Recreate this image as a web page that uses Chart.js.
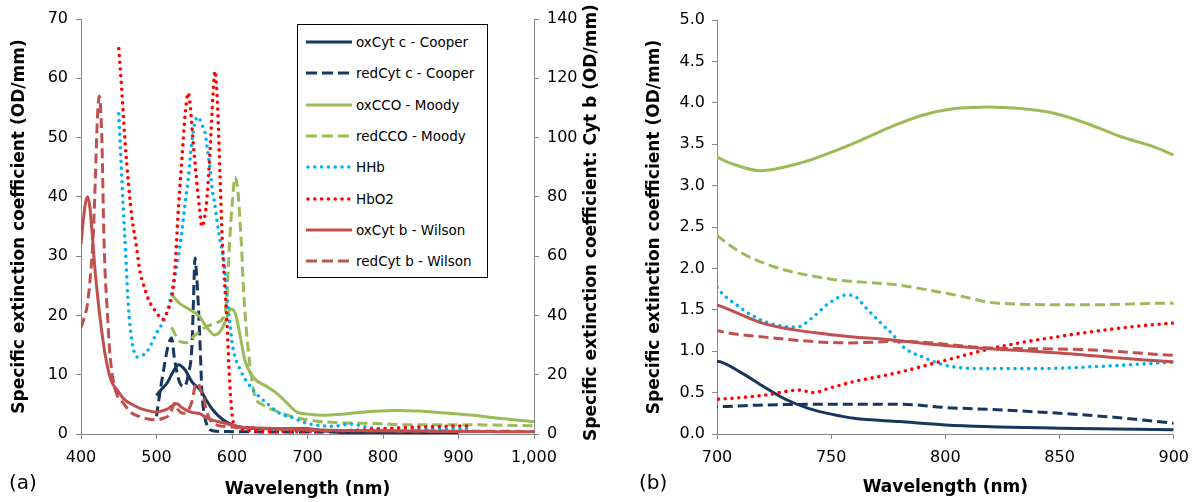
<!DOCTYPE html>
<html>
<head>
<meta charset="utf-8">
<script src="https://cdn.jsdelivr.net/npm/chart.js@4"></script>
<style>
  body { margin: 0; background: #fff; width: 1198px; height: 502px; overflow: hidden; font-family: 'DejaVu Sans', sans-serif; }
  #wrapA { position: absolute; left: 0; top: 0; width: 600px; height: 502px; }
  #wrapB { position: absolute; left: 600px; top: 0; width: 598px; height: 502px; }
  .tag { position: absolute; top: 472px; font-size: 20px; line-height: 1; color: #000; }
  #legend { position: absolute; left: 297px; top: 24px; width: 191px; height: 254px; border: 1px solid #000; background: #fff; box-sizing: border-box; }
  .row { position: absolute; left: 8px; height: 20px; display: flex; align-items: center; font-size: 13.5px; color: #000; white-space: nowrap; }
  .row svg { margin-right: 4px; }
</style>
</head>
<body>
<div id="wrapA"><canvas id="chartA" width="600" height="502"></canvas></div>
<div id="wrapB"><canvas id="chartB" width="598" height="502"></canvas></div>
<div id="legend"></div>
<div class="tag" style="left:9px">(a)</div>
<div class="tag" style="left:639px">(b)</div>
<script>
// ---- data: wavelength (nm) and specific extinction coefficient (OD/mm) ----
const oxCytcNm = [500,507,514,522,529,538,547,558,566,575,588,601,620,650,700,710,720,730,740,750,760,780,800,850,900];
const oxCytcOD = [6.5,7.6,8.6,10.5,11.7,10.8,8.8,7.4,5.7,4.0,2.4,1.5,1.0,0.9,0.88,0.75,0.58,0.42,0.31,0.24,0.19,0.15,0.11,0.07,0.05];

const redCytcNm = [500,505,511,515,520,524,531,537,542,547,549,551,553,555,558,560,564,571,580,600,650,700,720,750,780,800,825,850,875,900];
const redCytcOD = [3,7.4,12,14.7,16.2,12.5,8.6,8.0,10,15,22.7,29.7,27,22.7,14.2,7.4,2.9,0.7,0.45,0.4,0.35,0.33,0.35,0.36,0.36,0.32,0.29,0.25,0.2,0.13];

const oxCcoNm = [520,531,544,557,566,577,586,593,598,604,611,617,628,646,659,673,686,700,707,719,736,758,778,790,804,819,833,848,862,877,891,900,920,950,1000];
const oxCcoOD = [23.5,22,21,19.8,18.1,16.7,17.6,19.6,21.1,20.5,16.4,12.5,9.6,8,6.9,5.2,3.7,3.35,3.26,3.18,3.27,3.49,3.73,3.85,3.93,3.95,3.93,3.87,3.75,3.59,3.47,3.37,3.15,2.7,2.1];

const redCcoNm = [520,526,531,540,551,566,580,589,593,595,597,600,604,608,611,613,615,619,624,630,640,660,681,700,710,725,750,779,804,823,862,900,950,1000];
const redCcoOD = [18,16.5,15.6,15.4,16.7,18.1,18.8,19.8,22.7,27.7,32.8,38.4,43.3,40.8,35,30.6,24.9,17.6,11.3,6.5,5,3.8,2.9,2.4,2.2,2.02,1.87,1.8,1.68,1.58,1.56,1.58,1.5,1.4];

const hhbNm = [450,453,456,459,462,466,470,474,480,487,500,514,522,529,534,538,542,545,549,555,560,564,568,571,574,577,580,584,589,593,597,601,611,628,646,663,681,700,710,719,727,735,742,749,757,761,765,771,777,782,790,800,815,840,870,900,915];
const hhbOD = [54,46,38,31,23,17,14,13,13.2,13.8,17,20.5,25,30,34.5,39,43,47,51.4,53.5,52.2,51,47.5,44.6,41,39,36,32.8,29.4,23.8,18.8,14.7,10.8,7.4,5.2,3.5,2.7,1.77,1.53,1.38,1.31,1.29,1.41,1.58,1.68,1.65,1.53,1.36,1.2,1.04,0.93,0.83,0.79,0.79,0.82,0.87,0.9];

const hbo2Nm = [450,454,458,463,468,473,478,482,490,500,508,514,518,522,525,529,534,538,542,545,548,553,557,560,563,567,571,575,577.5,581,584,587,590,593,597,601,605,610,650,700,721,736,742,750,758,779,800,823,848,877,900,915];
const hbo2OD = [65,58,50,42,36,32,27.5,25.5,22.5,20.5,19.3,20.5,22,24.5,29,38,47,54,57.5,55,50,43,38,35,36,40,48,57.5,61.2,55,44,33,26,19.8,8.6,2.4,1.2,0.8,0.4,0.42,0.47,0.53,0.5,0.56,0.62,0.74,0.89,1.05,1.17,1.28,1.34,1.36];

const oxCytbNm = [400,403,406,409,412,415,418,421,425,430,434,440,448,458,469,480,490,500,510,517,522,527,533,540,548,558,566,575,588,611,650,700,721,750,779,800,848,900,950,1000];
const oxCytbOD = [64,72,78,80,76,67,57,49,39.6,30,24,18,14.8,11.5,9.8,8.5,7.8,7.4,8,8.8,9.8,10.2,9,8,7.2,6.8,5.5,4.6,3.8,2.4,1.9,1.56,1.33,1.2,1.13,1.07,0.98,0.87,0.8,0.75];

const redCytbNm = [400,404,408,412,416,419,421,424,426,428,430,432,434,438,442,448,456,465,478,490,500,510,516,520,524,528,535,542,547,551,555,558,562,566,571,580,600,650,700,721,758,780,819,860,900,950,1000];
const redCytbOD = [36,39,43,52,66,86,102,114,110,96,70,54,45,28,19,13,10.4,7.5,5.8,5,4.8,5.4,6.2,8,10.4,8.4,7,8,11,16,17.2,15,12.6,8,4.8,3,2.4,1.8,1.25,1.17,1.1,1.12,1.04,1.02,0.95,0.9,0.88];

const seriesNames = ['oxCyt c - Cooper', 'redCyt c - Cooper', 'oxCCO - Moody', 'redCCO - Moody', 'HHb', 'HbO2', 'oxCyt b - Wilson', 'redCyt b - Wilson'];
const seriesNm = [oxCytcNm, redCytcNm, oxCcoNm, redCcoNm, hhbNm, hbo2Nm, oxCytbNm, redCytbNm];
const seriesOD = [oxCytcOD, redCytcOD, oxCcoOD, redCcoOD, hhbOD, hbo2OD, oxCytbOD, redCytbOD];
const onCytbAxis = [false, false, false, false, false, false, true, true];

// styles
const seriesColor = ['#17375e', '#17375e', '#9bbb59', '#9bbb59', '#00b0f0', '#ff0000', '#c0504d', '#c0504d'];
const seriesStyle = ['solid', 'dash', 'solid', 'dash', 'dot', 'dot', 'solid', 'dash'];

const axisGrey = '#868686';
const tickFont = { family: 'DejaVu Sans', size: 16 };
const titleFont = { family: 'DejaVu Sans', size: 17, weight: 'bold', lineHeight: 1 };

Chart.defaults.font.family = 'DejaVu Sans';
Chart.defaults.color = '#000';

function toPoints(nm, od) {
  return nm.map((w, i) => ({ x: w, y: od[i] }));
}

function buildDatasets(panel) {
  return seriesNames.map((name, i) => {
    const style = seriesStyle[i];
    return {
      label: name,
      data: toPoints(seriesNm[i], seriesOD[i]),
      borderColor: seriesColor[i],
      borderWidth: style === 'dot' ? 3.6 : 3,
      borderDash: style === 'dash' ? [10, 5] : (style === 'dot' ? [0, 6.8] : []),
      borderCapStyle: style === 'dot' ? 'round' : 'butt',
      pointRadius: 0,
      cubicInterpolationMode: 'monotone',
      yAxisID: (panel === 'a' && onCytbAxis[i]) ? 'y2' : 'y',
      order: seriesNames.length - i
    };
  });
}

function axis(extra) {
  const base = {
    type: 'linear',
    grid: { drawOnChartArea: false, tickLength: 5, tickColor: axisGrey },
    border: { color: axisGrey, width: 1 }
  };
  return Object.assign(base, extra);
}

// right-hand title of panel (a) reads bottom-to-top like the left one
const cytbTitle = {
  id: 'cytbTitle',
  afterDraw(chart) {
    const { ctx, chartArea } = chart;
    ctx.save();
    ctx.translate(592, (chartArea.top + chartArea.bottom) / 2 - 4);
    ctx.rotate(-Math.PI / 2);
    ctx.font = 'bold 17px "DejaVu Sans"';
    ctx.fillStyle = '#000';
    ctx.textAlign = 'center';
    ctx.textBaseline = 'middle';
    ctx.fillText('Specific extinction coefficient: Cyt b (OD/mm)', 0, 0);
    ctx.restore();
  }
};

// Panel (a)
new Chart(document.getElementById('chartA'), {
  type: 'line',
  data: { datasets: buildDatasets('a') },
  options: {
    responsive: false,
    animation: false,
    devicePixelRatio: 1,
    layout: { padding: { top: 19, left: 0, right: 0, bottom: 0 } },
    plugins: { legend: { display: false }, tooltip: { enabled: false } },
    scales: {
      x: axis({
        min: 400, max: 1000,
        ticks: { stepSize: 100, padding: 9, font: tickFont, color: '#000', autoSkip: false, maxRotation: 0,
                 callback: v => v.toLocaleString('en-US') },
        title: { display: true, text: 'Wavelength (nm)', font: titleFont, color: '#000', padding: { top: 0, bottom: 4 } },
        afterFit: s => { s.height = 68; }
      }),
      y: axis({
        position: 'left', min: 0, max: 70,
        ticks: { stepSize: 10, padding: 8, font: tickFont, color: '#000' },
        title: { display: true, text: 'Specific extinction coefficient (OD/mm)', font: titleFont, color: '#000', padding: { top: 11.5, bottom: 0 } },
        afterFit: s => { s.width = 81; }
      }),
      y2: axis({
        position: 'right', min: 0, max: 140,
        ticks: { stepSize: 20, padding: 8, font: tickFont, color: '#000' },
        afterFit: s => { s.width = 66; }
      })
    }
  },
  plugins: [cytbTitle]
});

// Panel (b)
new Chart(document.getElementById('chartB'), {
  type: 'line',
  data: { datasets: buildDatasets('b') },
  options: {
    responsive: false,
    animation: false,
    devicePixelRatio: 1,
    layout: { padding: { top: 20, left: 0, right: 21, bottom: 0 } },
    plugins: { legend: { display: false }, tooltip: { enabled: false } },
    scales: {
      x: axis({
        min: 700, max: 900,
        ticks: { stepSize: 50, padding: 9, font: tickFont, color: '#000', autoSkip: false, maxRotation: 0 },
        title: { display: true, text: 'Wavelength (nm)', font: titleFont, color: '#000', padding: { top: 0, bottom: 6 } },
        afterFit: s => { s.height = 68; }
      }),
      y: axis({
        position: 'left', min: 0, max: 5,
        ticks: { stepSize: 0.5, padding: 7, font: tickFont, color: '#000', callback: v => v.toFixed(1) },
        title: { display: true, text: 'Specific extinction coefficient (OD/mm)', font: titleFont, color: '#000', padding: { top: 46.5, bottom: 0 } },
        afterFit: s => { s.width = 117; }
      })
    }
  }
});

// Legend box (panel a)
const legend = document.getElementById('legend');
seriesNames.forEach((name, i) => {
  const style = seriesStyle[i];
  const dash = style === 'dash' ? 'stroke-dasharray="11 5"' : (style === 'dot' ? 'stroke-dasharray="0 6.8" stroke-linecap="round"' : '');
  const w = style === 'dot' ? 3.6 : 3;
  const row = document.createElement('div');
  row.className = 'row';
  row.style.top = (18 - 10 + i * 31.3 - 1) + 'px';
  row.innerHTML = '<svg width="46" height="8"><line x1="' + (style === 'dot' ? 2 : 0) + '" y1="4" x2="46" y2="4" stroke="' +
    seriesColor[i] + '" stroke-width="' + w + '" ' + dash + '/></svg><span>' + name + '</span>';
  legend.appendChild(row);
});
</script>
</body>
</html>
